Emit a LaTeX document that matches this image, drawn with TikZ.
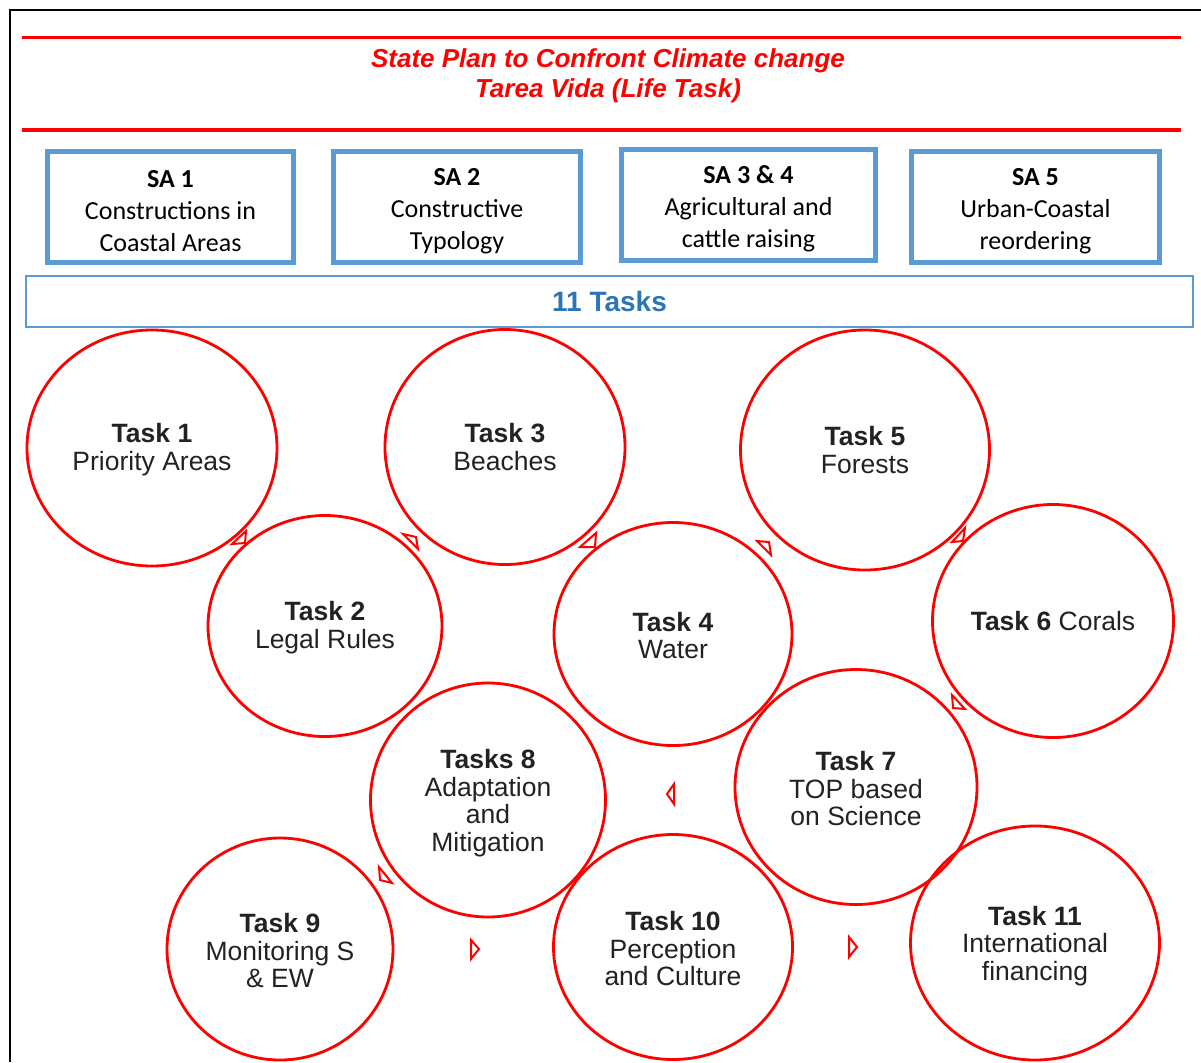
\documentclass[tikz,border=0pt]{standalone}
\usepackage{fontspec}
\setmainfont{Liberation Sans}
\newfontfamily\calibri{Carlito}
\usetikzlibrary{shapes.geometric}
\definecolor{sablue}{HTML}{5B9BD5}
\definecolor{taskblue}{HTML}{2E75B6}
\definecolor{tasktext}{HTML}{222222}
\newcommand{\sastrut}{\rule{0pt}{26pt}}
\newcommand{\taskstrut}{\rule{0pt}{22.5pt}}
\tikzset{
  sabox/.style={draw=sablue, line width=5pt, minimum height=111pt, inner sep=0pt,
    align=center, font=\calibri\fontsize{26}{32}\selectfont},
  task/.style={draw=red, ellipse, line width=2.8pt, inner sep=0pt, align=center,
    text=tasktext, font=\fontsize{26.5}{27.5}\selectfont},
  redrule/.style={red, line width=3pt},
  arrowtri/.style={draw=red, line width=2pt, line join=miter}
}
\begin{document}
\begin{tikzpicture}[x=1pt, y=-1pt]
\useasboundingbox (0,0) rectangle (1201,1062);
\draw [line width=2.5pt] (10,1062)--(10,10)--(1201,10);
% title
\draw[redrule] (22,38)--(1181,38);
\draw[redrule] (22,130)--(1181,130);
\node[red, align=center, font=\bfseries\itshape\fontsize{26}{30}\selectfont] (title) at (608,76)
  {State Plan to Confront Climate change\\Tarea Vida (Life Task)};
% strategic actions
\node[sabox, minimum width=246pt] (sa1) at (170.5,206.5) {\sastrut\textbf{SA 1}\\Constructions in\\Coastal Areas};
\node[sabox, minimum width=247pt] (sa2) at (457,206.5) {\sastrut\textbf{SA 2}\\Constructive\\Typology};
\node[sabox, minimum width=254pt] (sa3) at (748.5,204.5) {\sastrut\textbf{SA 3 \& 4}\\Agricultural and\\cattle raising};
\node[sabox, minimum width=248pt] (sa5) at (1035.5,206.5) {\sastrut\textbf{SA 5}\\Urban-Coastal\\reordering};
\node[draw=sablue, line width=2pt, minimum width=1167pt, minimum height=51pt, text=taskblue,
  font=\bfseries\fontsize{28}{32}\selectfont] (tasks) at (609.5,301) {11 Tasks};
% tasks
\node[task, minimum width=250pt, minimum height=236pt] (t1) at (152,448) {\taskstrut\textbf{Task 1}\\Priority Areas};
\node[task, minimum width=240pt, minimum height=235pt] (t3) at (505,447) {\textbf{Task 3}\\Beaches};
\node[task, minimum width=249pt, minimum height=240pt] (t5) at (865,450) {\textbf{Task 5}\\Forests};
\node[task, minimum width=234pt, minimum height=221pt] (t2) at (325,626) {\taskstrut\textbf{Task 2}\\Legal Rules};
\node[task, minimum width=238pt, minimum height=223pt] (t4) at (673,634) {\taskstrut\textbf{Task 4}\\Water};
\node[task, minimum width=241pt, minimum height=233pt] (t6) at (1053,621) {\textbf{Task 6} Corals};
\node[task, minimum width=235pt, minimum height=234pt] (t8) at (488,800) {\rule{0pt}{25pt}\textbf{Tasks 8}\\Adaptation\\and\\Mitigation};
\node[task, minimum width=242pt, minimum height=235pt] (t7) at (856,787) {\taskstrut\textbf{Task 7}\\TOP based\\on Science};
\node[task, minimum width=226pt, minimum height=222pt] (t9) at (280,949) {\taskstrut\textbf{Task 9}\\Monitoring S\\\& EW};
\node[task, minimum width=239pt, minimum height=225pt] (t10) at (673,947) {\taskstrut\textbf{Task 10}\\Perception\\and Culture};
\node[task, minimum width=249pt, minimum height=234pt] (t11) at (1035,943) {\rule{0pt}{25pt}\textbf{Task 11}\\International\\financing};
% arrow heads
\draw[arrowtri] (246,531)--(232,544)--(245,543)--cycle;
\draw[arrowtri] (403,534)--(416,537)--(418,549)--cycle;
\draw[arrowtri] (580,547)--(596,533)--(595,547)--cycle;
\draw[arrowtri] (757,541)--(769,542)--(771,555)--cycle;
\draw[arrowtri] (952,542)--(965,528)--(963,541)--cycle;
\draw[arrowtri] (952,695)--(965,709)--(953,708)--cycle;
\draw[arrowtri] (674,784)--(667,794)--(674,804)--cycle;
\draw[arrowtri] (379,867)--(392,883)--(380,880)--cycle;
\draw[arrowtri] (471,940)--(479,949)--(471,959)--cycle;
\draw[arrowtri] (849,937)--(857,947)--(849,957)--cycle;
\end{tikzpicture}
\end{document}
